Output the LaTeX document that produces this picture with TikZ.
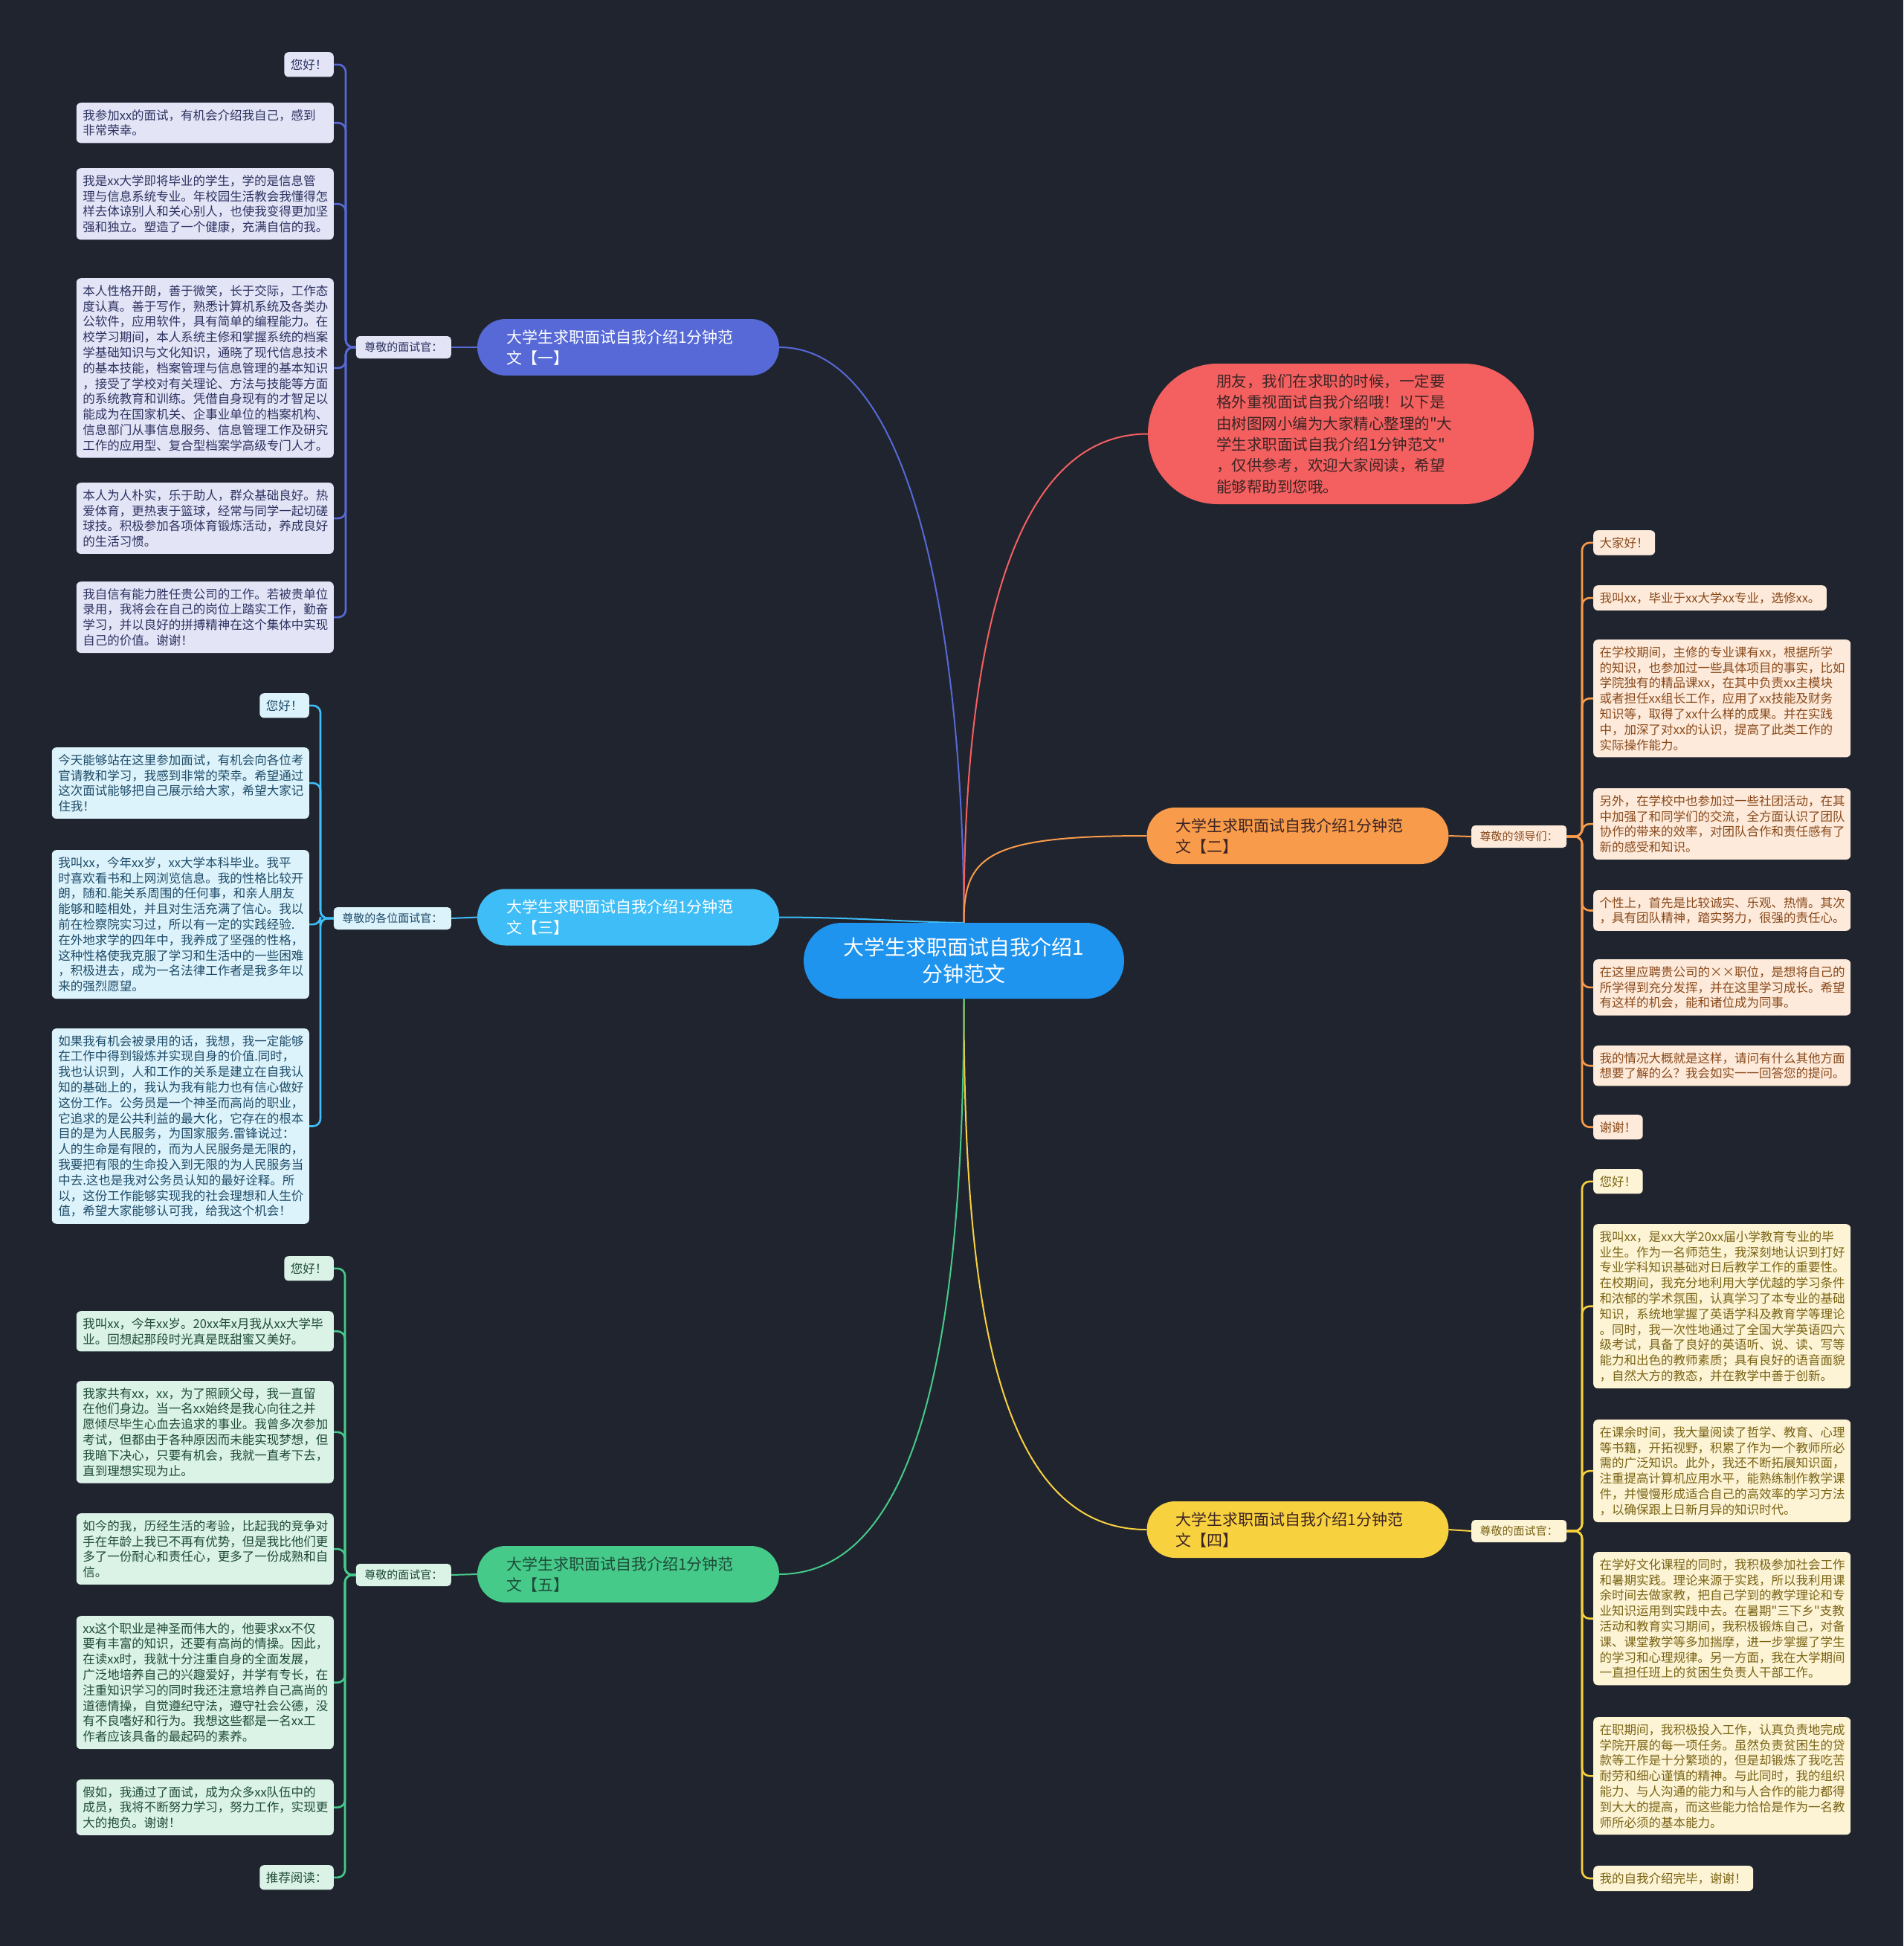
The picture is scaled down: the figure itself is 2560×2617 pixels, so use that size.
\documentclass[tikz,border=0pt]{standalone}
\usepackage{fontspec}
\setmainfont{Noto Sans CJK SC}
\newfontfamily\cjk{Noto Sans CJK SC}
\usetikzlibrary{calc}
\pgfdeclarelayer{bg}
\pgfsetlayers{bg,main}
\definecolor{bgc}{HTML}{20242F}
\definecolor{cmain}{HTML}{1E94EF}
\definecolor{bone}{HTML}{5669D6}
\definecolor{bthree}{HTML}{3FBDF6}
\definecolor{bfive}{HTML}{45CA8A}
\definecolor{btwo}{HTML}{F89B4A}
\definecolor{bfour}{HTML}{F8D13F}
\definecolor{bred}{HTML}{F46060}
\definecolor{fone}{HTML}{E3E5F7}\definecolor{tone}{HTML}{2E3260}
\definecolor{fthree}{HTML}{DDF3FC}\definecolor{tthree}{HTML}{1E4C68}
\definecolor{ffive}{HTML}{DAF3E6}\definecolor{tfive}{HTML}{1F4A38}
\definecolor{ftwo}{HTML}{FDEADA}\definecolor{ttwo}{HTML}{8A4A1C}
\definecolor{ffour}{HTML}{FDF4D6}\definecolor{tfour}{HTML}{7A6414}
\definecolor{tred}{HTML}{3D2424}
\tikzset{
  leaf/.style={rounded corners=6pt, inner xsep=8.5pt, inner ysep=9pt, align=left,
    font=\cjk\fontsize{16.5pt}{20.8pt}\selectfont},
  wide/.style={text width=329pt},
  lab/.style={rounded corners=5pt, inner xsep=11.5pt, inner ysep=0pt, minimum height=30pt,
    font=\cjk\fontsize{15pt}{18pt}\selectfont},
  topic/.style={rounded corners=38pt, minimum height=76pt, minimum width=406pt, inner xsep=39pt,
    inner ysep=0pt, text width=328pt, align=left, font=\cjk\fontsize{21pt}{28pt}\selectfont},
  cnode/.style={rounded corners=51pt, minimum height=102pt, minimum width=431pt, inner sep=0pt,
    align=center, fill=cmain, text=white, font=\cjk\fontsize{28pt}{36pt}\selectfont},
  mline/.style={line width=2pt},
  lline/.style={line width=2.6pt, rounded corners=10pt},
  one/.style={leaf, fill=fone, text=tone, anchor=north east},
  three/.style={leaf, fill=fthree, text=tthree, anchor=north east},
  five/.style={leaf, fill=ffive, text=tfive, anchor=north east},
  two/.style={leaf, fill=ftwo, text=ttwo, anchor=north west},
  four/.style={leaf, fill=ffour, text=tfour, anchor=north west},
}
\begin{document}
\begin{tikzpicture}[x=1pt,y=-1pt]
\begin{pgfonlayer}{bg}
\fill[bgc] (0,0) rectangle (2560,2617);
\end{pgfonlayer}
\useasboundingbox (0,0) rectangle (2560,2617);

% central and topics
\node[cnode] (c) at (1296.5,1292) {大学生求职面试自我介绍1\\分钟范文};
\node[topic, fill=bone, text=white] (b1) at (845,467) {大学生求职面试自我介绍1分钟范\\文【一】};
\node[topic, fill=bthree, text=white] (b3) at (845,1233.5) {大学生求职面试自我介绍1分钟范\\文【三】};
\node[topic, fill=bfive, text=tfive] (b5) at (845,2117) {大学生求职面试自我介绍1分钟范\\文【五】};
\node[topic, fill=btwo, text=tred] (b2) at (1745.5,1124) {大学生求职面试自我介绍1分钟范\\文【二】};
\node[topic, fill=bfour, text=tred] (b4) at (1745.5,2057) {大学生求职面试自我介绍1分钟范\\文【四】};
\node[rounded corners=94pt, minimum width=519pt, minimum height=189pt, inner xsep=92pt, inner ysep=0pt,
  text width=335pt, align=left, fill=bred, text=tred, font=\cjk\fontsize{20.5pt}{28.3pt}\selectfont]
  (red) at (1803.5,583.5) {朋友，我们在求职的时候，一定要\\格外重视面试自我介绍哦！以下是\\由树图网小编为大家精心整理的"大\\学生求职面试自我介绍1分钟范文"\\，仅供参考，欢迎大家阅读，希望\\能够帮助到您哦。};

% labels
\node[lab, fill=fone, text=tone, anchor=east] (lab1) at (607,467) {尊敬的面试官：};
\node[lab, fill=fthree, text=tthree, anchor=east] (lab3) at (607,1235) {尊敬的各位面试官：};
\node[lab, fill=ffive, text=tfive, anchor=east] (lab5) at (607,2118) {尊敬的面试官：};
\node[lab, fill=ftwo, text=ttwo, anchor=west] (lab2) at (1979,1125) {尊敬的领导们：};
\node[lab, fill=ffour, text=tfour, anchor=west] (lab4) at (1979,2059) {尊敬的面试官：};

% branch 1 leaves
\node[one] (L1a) at (449,70) {您好！};
\node[one, wide] (L1b) at (449,138) {我参加xx的面试，有机会介绍我自己，感到\\非常荣幸。};
\node[one, wide] (L1c) at (449,226) {我是xx大学即将毕业的学生，学的是信息管\\理与信息系统专业。年校园生活教会我懂得怎\\样去体谅别人和关心别人，也使我变得更加坚\\强和独立。塑造了一个健康，充满自信的我。};
\node[one, wide] (L1d) at (449,374) {本人性格开朗，善于微笑，长于交际，工作态\\度认真。善于写作，熟悉计算机系统及各类办\\公软件，应用软件，具有简单的编程能力。在\\校学习期间，本人系统主修和掌握系统的档案\\学基础知识与文化知识，通晓了现代信息技术\\的基本技能，档案管理与信息管理的基本知识\\，接受了学校对有关理论、方法与技能等方面\\的系统教育和训练。凭借自身现有的才智足以\\能成为在国家机关、企事业单位的档案机构、\\信息部门从事信息服务、信息管理工作及研究\\工作的应用型、复合型档案学高级专门人才。};
\node[one, wide] (L1e) at (449,649) {本人为人朴实，乐于助人，群众基础良好。热\\爱体育，更热衷于篮球，经常与同学一起切磋\\球技。积极参加各项体育锻炼活动，养成良好\\的生活习惯。};
\node[one, wide] (L1f) at (449,782) {我自信有能力胜任贵公司的工作。若被贵单位\\录用，我将会在自己的岗位上踏实工作，勤奋\\学习，并以良好的拼搏精神在这个集体中实现\\自己的价值。谢谢！};

% branch 3 leaves
\node[three] (L3a) at (416,932) {您好！};
\node[three, wide] (L3b) at (416,1005) {今天能够站在这里参加面试，有机会向各位考\\官请教和学习，我感到非常的荣幸。希望通过\\这次面试能够把自己展示给大家，希望大家记\\住我！};
\node[three, wide] (L3c) at (416,1143) {我叫xx，今年xx岁，xx大学本科毕业。我平\\时喜欢看书和上网浏览信息。我的性格比较开\\朗，随和.能关系周围的任何事，和亲人朋友\\能够和睦相处，并且对生活充满了信心。我以\\前在检察院实习过，所以有一定的实践经验.\\在外地求学的四年中，我养成了坚强的性格，\\这种性格使我克服了学习和生活中的一些困难\\，积极进去，成为一名法律工作者是我多年以\\来的强烈愿望。};
\node[three, wide] (L3d) at (416,1383) {如果我有机会被录用的话，我想，我一定能够\\在工作中得到锻炼并实现自身的价值.同时，\\我也认识到，人和工作的关系是建立在自我认\\知的基础上的，我认为我有能力也有信心做好\\这份工作。公务员是一个神圣而高尚的职业，\\它追求的是公共利益的最大化，它存在的根本\\目的是为人民服务，为国家服务.雷锋说过：\\人的生命是有限的，而为人民服务是无限的，\\我要把有限的生命投入到无限的为人民服务当\\中去.这也是我对公务员认知的最好诠释。所\\以，这份工作能够实现我的社会理想和人生价\\值，希望大家能够认可我，给我这个机会！};

% branch 5 leaves
\node[five] (L5a) at (449,1689) {您好！};
\node[five, wide] (L5b) at (449,1763) {我叫xx，今年xx岁。20xx年x月我从xx大学毕\\业。回想起那段时光真是既甜蜜又美好。};
\node[five, wide] (L5c) at (449,1857) {我家共有xx，xx，为了照顾父母，我一直留\\在他们身边。当一名xx始终是我心向往之并\\愿倾尽毕生心血去追求的事业。我曾多次参加\\考试，但都由于各种原因而未能实现梦想，但\\我暗下决心，只要有机会，我就一直考下去，\\直到理想实现为止。};
\node[five, wide] (L5d) at (449,2035) {如今的我，历经生活的考验，比起我的竞争对\\手在年龄上我已不再有优势，但是我比他们更\\多了一份耐心和责任心，更多了一份成熟和自\\信。};
\node[five, wide] (L5e) at (449,2173) {xx这个职业是神圣而伟大的，他要求xx不仅\\要有丰富的知识，还要有高尚的情操。因此，\\在读xx时，我就十分注重自身的全面发展，\\广泛地培养自己的兴趣爱好，并学有专长，在\\注重知识学习的同时我还注意培养自己高尚的\\道德情操，自觉遵纪守法，遵守社会公德，没\\有不良嗜好和行为。我想这些都是一名xx工\\作者应该具备的最起码的素养。};
\node[five, wide] (L5f) at (449,2393) {假如，我通过了面试，成为众多xx队伍中的\\成员，我将不断努力学习，努力工作，实现更\\大的抱负。谢谢！};
\node[five] (L5g) at (449,2508) {推荐阅读：};

% branch 2 leaves
\node[two] (R2a) at (2143,713) {大家好！};
\node[two] (R2b) at (2143,787) {我叫xx，毕业于xx大学xx专业，选修xx。};
\node[two, wide] (R2c) at (2143,860) {在学校期间，主修的专业课有xx，根据所学\\的知识，也参加过一些具体项目的事实，比如\\学院独有的精品课xx，在其中负责xx主模块\\或者担任xx组长工作，应用了xx技能及财务\\知识等，取得了xx什么样的成果。并在实践\\中，加深了对xx的认识，提高了此类工作的\\实际操作能力。};
\node[two, wide] (R2d) at (2143,1060) {另外，在学校中也参加过一些社团活动，在其\\中加强了和同学们的交流，全方面认识了团队\\协作的带来的效率，对团队合作和责任感有了\\新的感受和知识。};
\node[two, wide] (R2e) at (2143,1197) {个性上，首先是比较诚实、乐观、热情。其次\\，具有团队精神，踏实努力，很强的责任心。};
\node[two, wide] (R2f) at (2143,1290) {在这里应聘贵公司的××职位，是想将自己的\\所学得到充分发挥，并在这里学习成长。希望\\有这样的机会，能和诸位成为同事。};
\node[two, wide] (R2g) at (2143,1406) {我的情况大概就是这样，请问有什么其他方面\\想要了解的么？我会如实一一回答您的提问。};
\node[two] (R2h) at (2143,1499) {谢谢！};

% branch 4 leaves
\node[four] (R4a) at (2143,1572) {您好！};
\node[four, wide] (R4b) at (2143,1646) {我叫xx，是xx大学20xx届小学教育专业的毕\\业生。作为一名师范生，我深刻地认识到打好\\专业学科知识基础对日后教学工作的重要性。\\在校期间，我充分地利用大学优越的学习条件\\和浓郁的学术氛围，认真学习了本专业的基础\\知识，系统地掌握了英语学科及教育学等理论\\。同时，我一次性地通过了全国大学英语四六\\级考试，具备了良好的英语听、说、读、写等\\能力和出色的教师素质；具有良好的语音面貌\\，自然大方的教态，并在教学中善于创新。};
\node[four, wide] (R4c) at (2143,1909) {在课余时间，我大量阅读了哲学、教育、心理\\等书籍，开拓视野，积累了作为一个教师所必\\需的广泛知识。此外，我还不断拓展知识面，\\注重提高计算机应用水平，能熟练制作教学课\\件，并慢慢形成适合自己的高效率的学习方法\\，以确保跟上日新月异的知识时代。};
\node[four, wide] (R4d) at (2143,2087) {在学好文化课程的同时，我积极参加社会工作\\和暑期实践。理论来源于实践，所以我利用课\\余时间去做家教，把自己学到的教学理论和专\\业知识运用到实践中去。在暑期"三下乡"支教\\活动和教育实习期间，我积极锻炼自己，对备\\课、课堂教学等多加揣摩，进一步掌握了学生\\的学习和心理规律。另一方面，我在大学期间\\一直担任班上的贫困生负责人干部工作。};
\node[four, wide] (R4e) at (2143,2309) {在职期间，我积极投入工作，认真负责地完成\\学院开展的每一项任务。虽然负责贫困生的贷\\款等工作是十分繁琐的，但是却锻炼了我吃苦\\耐劳和细心谨慎的精神。与此同时，我的组织\\能力、与人沟通的能力和与人合作的能力都得\\到大大的提高，而这些能力恰恰是作为一名教\\师所必须的基本能力。};
\node[four] (R4f) at (2143,2509) {我的自我介绍完毕，谢谢！};

% trunk points
\coordinate (t1) at (465,467);
\coordinate (t3) at (431,1235);
\coordinate (t5) at (464,2118);
\coordinate (t2) at (2128,1125);
\coordinate (t4) at (2128,2059);

\begin{pgfonlayer}{bg}
% main curves
\draw[mline, bone] (c.north) .. controls (1296,900) and (1240,467) .. (b1.east);
\draw[mline, bred] (c.north) .. controls (1296,900) and (1350,583.5) .. (red.west);
\draw[mline, btwo] (c.north) .. controls (1296,1150) and (1330,1124) .. (b2.west);
\draw[mline, bthree] (c.north) .. controls (1240,1241) and (1150,1233.5) .. (b3.east);
\draw[mline, bfour] (c.south) .. controls (1296,1750) and (1340,2057) .. (b4.west);
\draw[mline, bfive] (c.south) .. controls (1296,1750) and (1250,2117) .. (b5.east);
% topic to label
\draw[mline, bone] (b1.west) -- (lab1.east);
\draw[mline, bthree] (b3.west) -- (lab3.east);
\draw[mline, bfive] (b5.west) -- (lab5.east);
\draw[mline, btwo] (b2.east) -- (lab2.west);
\draw[mline, bfour] (b4.east) -- (lab4.west);
% leaf connectors
\foreach \n in {L1a,L1b,L1c,L1d,L1e,L1f} \draw[lline, bone] (lab1.west) -- (t1) |- (\n.east);
\foreach \n in {L3a,L3b,L3c,L3d} \draw[lline, bthree] (lab3.west) -- (t3) |- (\n.east);
\foreach \n in {L5a,L5b,L5c,L5d,L5e,L5f,L5g} \draw[lline, bfive] (lab5.west) -- (t5) |- (\n.east);
\foreach \n in {R2a,R2b,R2c,R2d,R2e,R2f,R2g,R2h} \draw[lline, btwo] (lab2.east) -- (t2) |- (\n.west);
\foreach \n in {R4a,R4b,R4c,R4d,R4e,R4f} \draw[lline, bfour] (lab4.east) -- (t4) |- (\n.west);
\end{pgfonlayer}
\end{tikzpicture}
\end{document}
